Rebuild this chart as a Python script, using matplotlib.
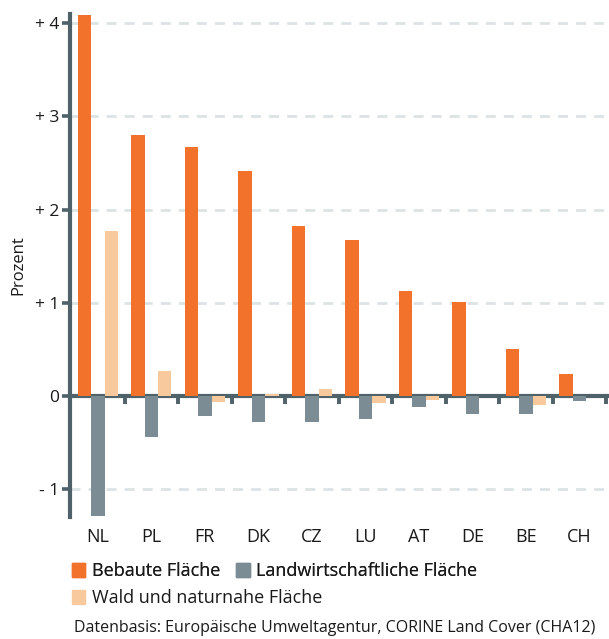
import matplotlib
matplotlib.use("Agg")
import matplotlib.pyplot as plt
from matplotlib.patches import Patch
import numpy as np

plt.rcParams['font.family'] = ['Open Sans', 'DejaVu Sans']

countries = ["NL", "PL", "FR", "DK", "CZ", "LU", "AT", "DE", "BE", "CH"]
bebaut = [4.09, 2.80, 2.67, 2.41, 1.82, 1.67, 1.13, 1.01, 0.50, 0.24]
landwirt = [-1.29, -0.44, -0.22, -0.28, -0.28, -0.25, -0.12, -0.19, -0.19, -0.05]
wald = [1.77, 0.27, -0.07, 0.02, 0.07, -0.08, -0.04, 0.0, -0.10, 0.0]
yticks = [-1, 0, 1, 2, 3, 4]
ytick_labels = ["- 1", "0", "+ 1", "+ 2", "+ 3", "+ 4"]
series_names = ["Bebaute Fläche", "Landwirtschaftliche Fläche", "Wald und naturnahe Fläche"]

c_orange = "#f2722c"
c_gray = "#7b8c94"
c_light = "#f9c99e"
c_axis = "#4f6169"
c_grid = "#dde3e5"
c_text = "#1a1a1a"

fig = plt.figure(figsize=(6.09, 6.39), dpi=100)
ax = fig.add_axes([0.115, 0.191, 0.885, 0.787])

x = np.arange(len(countries))
w = 0.25
ax.bar(x - w, bebaut, w, color=c_orange, zorder=3)
ax.bar(x, landwirt, w, color=c_gray, zorder=3)
ax.bar(x + w, wald, w, color=c_light, zorder=3)

ymin, ymax = -1.3, 4.1
ax.set_ylim(ymin, ymax)
ax.set_xlim(-0.52, 9.55)

for yv in yticks:
    if yv != 0:
        ax.axhline(yv, color=c_grid, lw=2.0, linestyle=(0, (3.6, 2.9)), zorder=1)

ax.set_yticks(yticks)
ax.set_yticklabels(ytick_labels)
ax.tick_params(axis='y', length=6, width=2.6, color=c_axis, labelsize=12.5,
               labelcolor=c_text, pad=2)
ax.set_xticks(x)
ax.set_xticklabels(countries)
ax.tick_params(axis='x', length=0, labelsize=13, labelcolor=c_text, pad=8)

for s in ["top", "right", "bottom"]:
    ax.spines[s].set_visible(False)
ax.spines["left"].set_color(c_axis)
ax.spines["left"].set_linewidth(3.0)
ax.spines["left"].set_zorder(5)

zero_frac = (0 - ymin) / (ymax - ymin)
sec = ax.secondary_xaxis(zero_frac)
sec.set_xticks(np.arange(len(countries)) + 0.5)
sec.set_xticklabels([])
sec.tick_params(axis='x', direction='out', length=6, width=2.8, color=c_axis)
sec.spines["bottom"].set_color(c_axis)
sec.spines["bottom"].set_linewidth(3.0)
sec.spines["bottom"].set_zorder(5)

ax.set_ylabel("Prozent", fontsize=12, color=c_text, labelpad=6)

leg_kw = dict(loc="upper left", frameon=False, fontsize=13, handlelength=0.75,
              handleheight=0.75, handletextpad=0.35, columnspacing=0.9,
              borderpad=0, labelcolor=c_text)
leg1 = fig.legend([Patch(color=c_orange), Patch(color=c_gray)],
                  [series_names[0], series_names[1]],
                  bbox_to_anchor=(0.103, 0.134), ncol=2, **leg_kw)
fig.add_artist(leg1)
fig.legend([Patch(color=c_light)], [series_names[2]],
           bbox_to_anchor=(0.103, 0.092), ncol=1, **leg_kw)

fig.text(0.121, 0.004, "Datenbasis: Europäische Umweltagentur, CORINE Land Cover (CHA12)",
         fontsize=11.5, color=c_text, ha="left", va="bottom")

fig.savefig("out.png", dpi=100)
